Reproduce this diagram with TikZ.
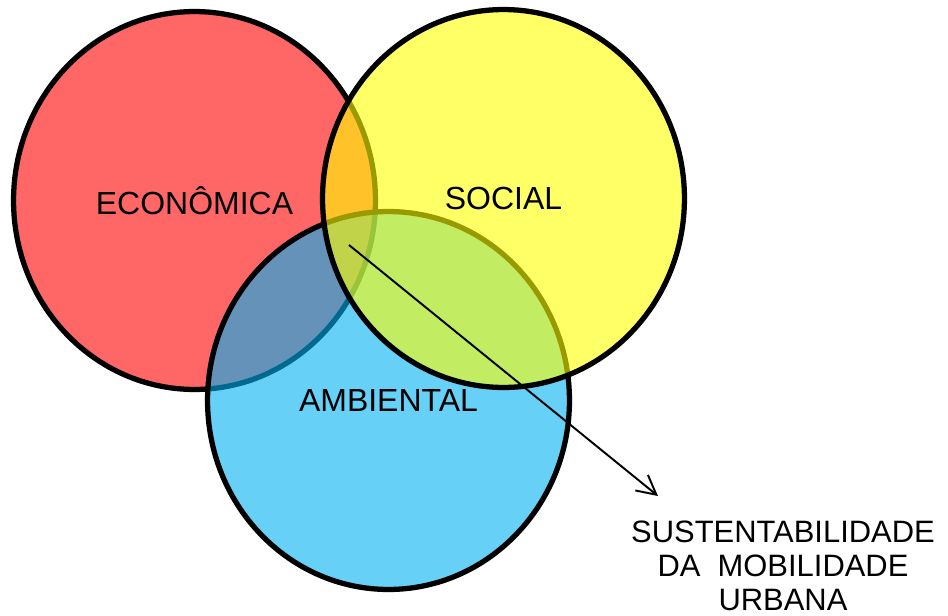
\documentclass[tikz,border=0pt]{standalone}
\usepackage{fontspec}
\setmainfont{Liberation Sans}
\usetikzlibrary{arrows.meta,positioning,shapes.geometric}
\definecolor{ecored}{HTML}{FF0000}
\definecolor{socyellow}{HTML}{FFFF00}
\definecolor{ambblue}{HTML}{00B0F0}
\tikzset{
	circ/.style={draw,ellipse,line width=3pt,minimum width=7.24cm,minimum height=7.56cm,inner sep=0pt,fill opacity=0.6,text opacity=1,font=\fontsize{18.2pt}{20pt}\selectfont},
	-v/.style={-{Straight Barb[length=3.8mm,width=4mm]}},
	caption/.style={align=center,font=\fontsize{17.6pt}{19.4pt}\selectfont}
}
\begin{document}
\begin{tikzpicture}[x=0.02cm,y=-0.02cm]
	\useasboundingbox (0,0) rectangle (948,616);
	\node[circ,fill=ecored] (eco) at (194.5,200.5) {ECONÔMICA};
	\node[circ,fill=ambblue] (amb) at (388.5,400.5) {AMBIENTAL};
	\node[circ,fill=socyellow] (soc) at (503.5,198.5) {SOCIAL};
	\coordinate (core) at (349,245);
	\coordinate (tip) at (658,496);
	\node[caption] (sus) at (783,566) {SUSTENTABILIDADE\\DA\ \ MOBILIDADE\\URBANA};
	\draw[-v,line width=1.1pt] (core) -- (tip);
\end{tikzpicture}
\end{document}
